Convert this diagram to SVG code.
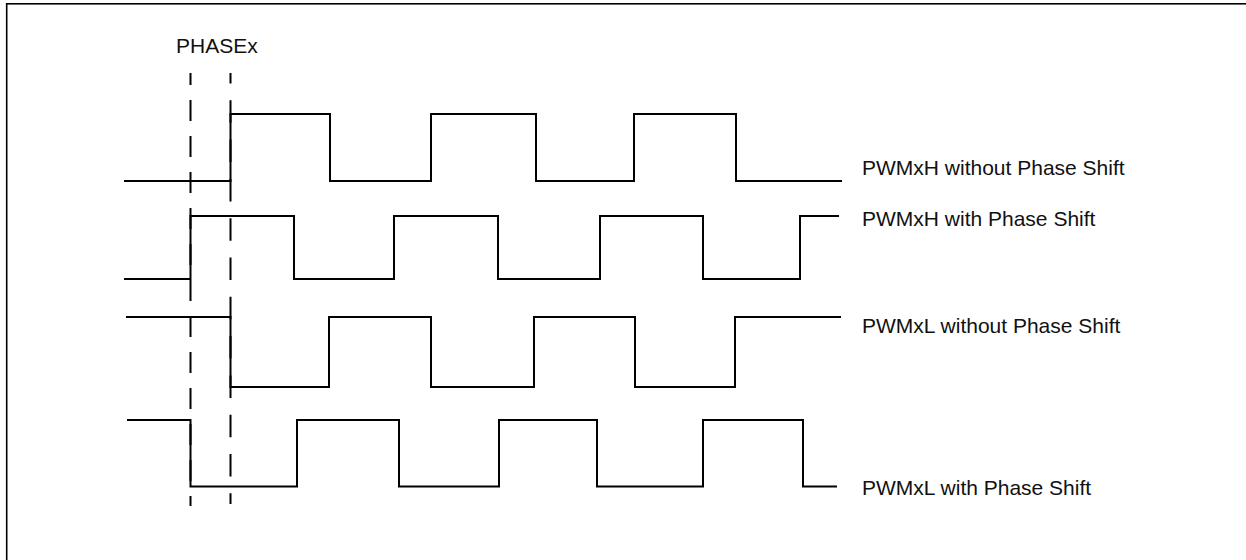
<svg xmlns="http://www.w3.org/2000/svg" width="1246" height="560" viewBox="0 0 1246 560">
<style>
.sig{fill:none;stroke:#000;stroke-width:2;stroke-linejoin:miter;stroke-linecap:butt}
.dash{fill:none;stroke:#000;stroke-width:2}
.lbl{font-family:"Liberation Sans",Arial,sans-serif;font-size:21px;fill:#111}
</style>
<rect x="0" y="0" width="1246" height="560" fill="#fff"/>
<rect id="frame" x="6.7" y="3.8" width="1300" height="620" fill="none" stroke="#000" stroke-width="1.6"/>
<g id="phase-markers">
<text class="lbl" x="176" y="53">PHASEx</text>
<line class="dash" x1="190.5" y1="73" x2="190.5" y2="506" stroke-dasharray="21 15" stroke-dashoffset="9"/>
<line class="dash" x1="230.5" y1="73" x2="230.5" y2="504" stroke-dasharray="22.5 16.8" stroke-dashoffset="12"/>
</g>
<g id="pwmxh-no-shift">
<path class="sig" d="M124,181 H230.5 V114 H330 V181 H431 V114 H536 V181 H634 V114 H736 V181 H842"/>
<text class="lbl" x="862" y="175">PWMxH without Phase Shift</text>
</g>
<g id="pwmxh-shift">
<path class="sig" d="M124,279 H190.5 V216 H294 V279 H394 V216 H498 V279 H600 V216 H703 V279 H800 V216 H839"/>
<text class="lbl" x="862" y="226">PWMxH with Phase Shift</text>
</g>
<g id="pwmxl-no-shift">
<path class="sig" d="M126,317 H230.5 V387 H329 V317 H431 V387 H534 V317 H635 V387 H735 V317 H841"/>
<text class="lbl" x="862" y="333">PWMxL without Phase Shift</text>
</g>
<g id="pwmxl-shift">
<path class="sig" d="M127,420 H190.5 V486.5 H297 V420 H399 V486.5 H499 V420 H597 V486.5 H703 V420 H803 V486.5 H837"/>
<text class="lbl" x="862" y="495">PWMxL with Phase Shift</text>
</g>
</svg>
